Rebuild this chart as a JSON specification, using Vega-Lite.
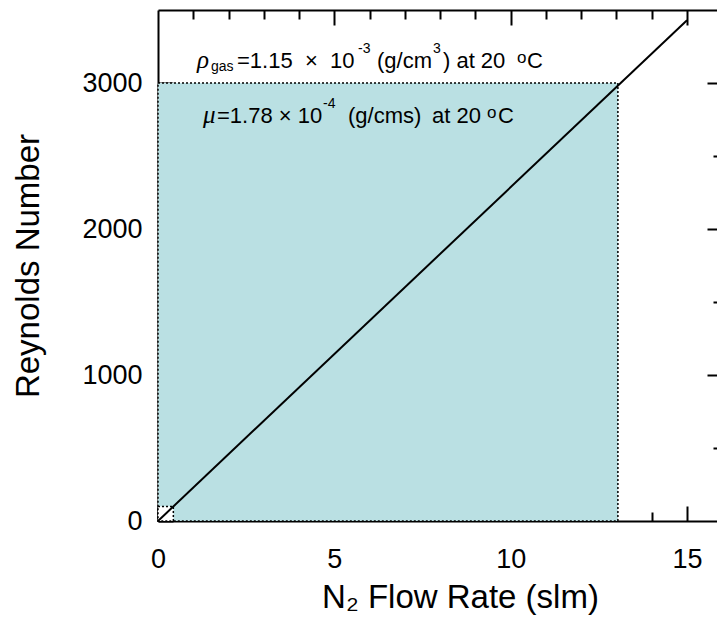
{
  "$schema": "https://vega.github.io/schema/vega-lite/v6.json",
  "autosize": "none",
  "width": 559,
  "height": 511,
  "padding": {"left": 158, "top": 10, "right": 0, "bottom": 120},
  "background": "white",
  "config": {
    "view": {"stroke": null},
    "font": "Liberation Sans",
    "axis": {"domainColor": "black", "domainWidth": 2, "tickColor": "black", "tickWidth": 2, "labelColor": "black", "titleColor": "black", "grid": false, "labelFont": "Liberation Sans", "titleFont": "Liberation Sans", "titleFontWeight": "normal"}
  },
  "datasets": {
    "shade": [{"x": 0, "x2": 13.04, "y": 0, "y2": 3000}],
    "small": [{"x": 0, "x2": 0.435, "y": 0, "y2": 100}],
    "line": [{"q": 0, "re": 0}, {"q": 15, "re": 3430}],
    "notes": [
      {"kind": "greek", "t": "ρ", "x": 1.106, "y": 3103},
      {"kind": "sub", "t": "gas", "x": 1.503, "y": 3082},
      {"kind": "main", "t": "=1.15\u00a0\u00a0×\u00a0\u00a010", "x": 2.24, "y": 3103},
      {"kind": "sup", "t": "-3", "x": 5.671, "y": 3205},
      {"kind": "main", "t": "(g/cm", "x": 6.209, "y": 3103},
      {"kind": "sup", "t": "3", "x": 7.797, "y": 3205},
      {"kind": "main", "t": ") at 20", "x": 8.08, "y": 3103},
      {"kind": "deg", "t": "o", "x": 10.179, "y": 3137},
      {"kind": "main", "t": "C", "x": 10.462, "y": 3103},
      {"kind": "greek", "t": "μ", "x": 1.276, "y": 2726},
      {"kind": "main", "t": "=1.78 × 10", "x": 1.673, "y": 2726},
      {"kind": "sup", "t": "-4", "x": 4.678, "y": 2829},
      {"kind": "main", "t": "(g/cms)", "x": 5.387, "y": 2726},
      {"kind": "main", "t": "at 20", "x": 7.769, "y": 2726},
      {"kind": "deg", "t": "o", "x": 9.328, "y": 2760},
      {"kind": "main", "t": "C", "x": 9.64, "y": 2726}
    ]
  },
  "resolve": {"axis": {"x": "independent", "y": "independent"}},
  "layer": [
    {
      "data": {"name": "shade"},
      "mark": {"type": "rect", "fill": "#bae0e3", "stroke": "black", "strokeWidth": 1.5, "strokeDash": [2, 2]},
      "encoding": {
        "x": {"field": "x", "type": "quantitative", "scale": {"domain": [0, 15.85], "nice": false, "zero": false},
          "axis": {"orient": "bottom", "values": [0,1,2,3,4,5,6,7,8,9,10,11,12,13,14,15],
            "labelExpr": "datum.value % 5 === 0 ? datum.label : ''",
            "tickSize": {"condition": {"test": "datum.value % 5 === 0", "value": -15}, "value": -9},
            "labelFontSize": 27, "labelPadding": 40, "labelFlush": false, "labelBaseline": "top",
            "title": "N₂ Flow Rate (slm)", "titleFontSize": 33, "titlePadding": 9, "titleX": 302}},
        "x2": {"field": "x2"},
        "y": {"field": "y", "type": "quantitative", "scale": {"domain": [0, 3500], "nice": false, "zero": false},
          "axis": {"orient": "left", "values": [0,500,1000,1500,2000,2500,3000], "format": "d",
            "labelExpr": "datum.value % 1000 === 0 ? datum.label : ''",
            "tickSize": {"condition": {"test": "datum.value % 1000 === 0", "value": -15}, "value": -9},
            "labelFontSize": 27, "labelPadding": 31, "labelFlush": false,
            "title": "Reynolds Number", "titleFontSize": 33, "titlePadding": 36}},
        "y2": {"field": "y2"}
      }
    },
    {
      "data": {"name": "small"},
      "mark": {"type": "rect", "fill": "white", "stroke": "black", "strokeWidth": 1.5, "strokeDash": [2, 2]},
      "encoding": {
        "x": {"field": "x", "type": "quantitative", "axis": null},
        "x2": {"field": "x2"},
        "y": {"field": "y", "type": "quantitative", "axis": null},
        "y2": {"field": "y2"}
      }
    },
    {
      "data": {"name": "line"},
      "mark": {"type": "line", "color": "black", "strokeWidth": 2},
      "encoding": {
        "x": {"field": "q", "type": "quantitative",
          "axis": {"orient": "top", "values": [1,2,3,4,5,6,7,8,9,10,11,12,13,14,15], "labels": false, "title": null,
            "tickSize": {"condition": {"test": "datum.value % 5 === 0", "value": -15}, "value": -9}}},
        "y": {"field": "re", "type": "quantitative",
          "axis": {"orient": "right", "values": [500,1000,1500,2000,2500,3000], "labels": false, "title": null, "domain": false,
            "tickSize": {"condition": {"test": "datum.value % 1000 === 0", "value": -10}, "value": -4}}}
      }
    },
    {
      "data": {"name": "notes"},
      "transform": [{"filter": "datum.kind === 'main'"}],
      "mark": {"type": "text", "align": "left", "baseline": "alphabetic", "fontSize": 22, "color": "black"},
      "encoding": {
        "x": {"field": "x", "type": "quantitative", "axis": null},
        "y": {"field": "y", "type": "quantitative", "axis": null},
        "text": {"field": "t"}
      }
    },
    {
      "data": {"name": "notes"},
      "transform": [{"filter": "datum.kind === 'greek'"}],
      "mark": {"type": "text", "align": "left", "baseline": "alphabetic", "fontSize": 25, "fontStyle": "italic", "font": "Liberation Serif", "color": "black"},
      "encoding": {
        "x": {"field": "x", "type": "quantitative", "axis": null},
        "y": {"field": "y", "type": "quantitative", "axis": null},
        "text": {"field": "t"}
      }
    },
    {
      "data": {"name": "notes"},
      "transform": [{"filter": "datum.kind === 'sub' || datum.kind === 'sup'"}],
      "mark": {"type": "text", "align": "left", "baseline": "alphabetic", "fontSize": 14, "color": "black"},
      "encoding": {
        "x": {"field": "x", "type": "quantitative", "axis": null},
        "y": {"field": "y", "type": "quantitative", "axis": null},
        "text": {"field": "t"}
      }
    },
    {
      "data": {"name": "notes"},
      "transform": [{"filter": "datum.kind === 'deg'"}],
      "mark": {"type": "text", "align": "left", "baseline": "alphabetic", "fontSize": 17, "color": "black"},
      "encoding": {
        "x": {"field": "x", "type": "quantitative", "axis": null},
        "y": {"field": "y", "type": "quantitative", "axis": null},
        "text": {"field": "t"}
      }
    }
  ]
}
